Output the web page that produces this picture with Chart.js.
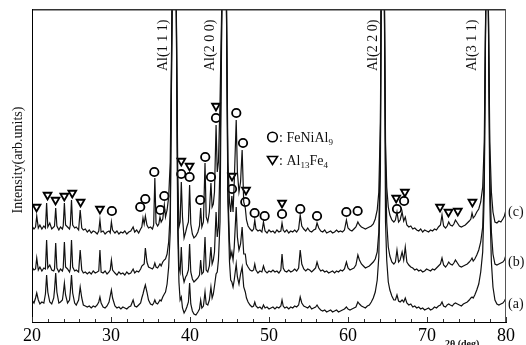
<!DOCTYPE html>
<html>
<head>
<meta charset="utf-8">
<script src="https://cdn.jsdelivr.net/npm/chart.js@4.4.1/dist/chart.umd.min.js"></script>
<style>
  html, body { margin: 0; padding: 0; background: #fff; }
  #xrd { display: block; }
</style>
</head>
<body>
<canvas id="xrd" width="526" height="345"></canvas>
<script>
// 2theta grid shared by the three patterns (deg)
const twoTheta = [
    20.0, 20.25, 20.45, 20.6, 20.8, 21.0, 21.25, 21.5, 21.7, 21.85,
    22.0, 22.25, 22.5, 22.75, 22.85, 23.0, 23.15, 23.4, 23.6, 23.85,
    23.95, 24.1, 24.25, 24.5, 24.75, 24.85, 25.0, 25.15, 25.4, 25.6,
    25.9, 26.1, 26.3, 26.5, 26.75, 27.0, 27.25, 27.5, 27.75, 28.0,
    28.25, 28.45, 28.6, 28.75, 29.0, 29.25, 29.5, 29.75, 29.9, 30.05,
    30.2, 30.5, 30.75, 31.0, 31.25, 31.5, 31.75, 32.0, 32.25, 32.5,
    32.8, 33.0, 33.25, 33.5, 33.75, 33.9, 34.05, 34.2, 34.35, 34.55,
    34.75, 35.0, 35.25, 35.4, 35.55, 35.7, 35.9, 36.05, 36.2, 36.35,
    36.55, 36.75, 36.9, 37.1, 37.3, 37.5, 37.75, 38.0, 38.25, 38.45,
    38.6, 38.75, 38.9, 39.05, 39.25, 39.45, 39.6, 39.8, 39.95, 40.1,
    40.3, 40.5, 40.75, 41.0, 41.2, 41.35, 41.5, 41.7, 41.9, 42.05,
    42.25, 42.45, 42.65, 42.8, 42.95, 43.1, 43.3, 43.45, 43.6, 43.8,
    44.05, 44.35, 44.6, 44.8, 45.0, 45.15, 45.3, 45.45, 45.6, 45.85,
    46.0, 46.2, 46.4, 46.6, 46.8, 47.0, 47.15, 47.35, 47.6, 47.85,
    48.05, 48.2, 48.35, 48.6, 48.85, 49.1, 49.3, 49.5, 49.75, 50.0,
    50.25, 50.5, 50.75, 51.0, 51.25, 51.5, 51.65, 51.8, 52.0, 52.25,
    52.5, 52.75, 53.0, 53.25, 53.5, 53.75, 53.95, 54.15, 54.4, 54.65,
    54.9, 55.15, 55.4, 55.65, 55.9, 56.08, 56.3, 56.55, 56.8, 57.05,
    57.3, 57.55, 57.8, 58.05, 58.3, 58.55, 58.8, 59.05, 59.3, 59.55,
    59.8, 60.0, 60.25, 60.5, 60.75, 61.0, 61.25, 61.45, 61.7, 61.95,
    62.2, 62.45, 62.7, 62.95, 63.2, 63.45, 63.7, 63.9, 64.1, 64.2,
    64.4, 64.6, 64.75, 64.9, 65.1, 65.3, 65.55, 65.8, 66.0, 66.2,
    66.4, 66.6, 66.85, 67.05, 67.25, 67.45, 67.7, 67.95, 68.2, 68.45,
    68.7, 68.95, 69.2, 69.45, 69.7, 69.95, 70.2, 70.45, 70.7, 70.95,
    71.2, 71.45, 71.7, 71.9, 72.1, 72.35, 72.55, 72.75, 72.95, 73.2,
    73.4, 73.6, 73.85, 74.1, 74.35, 74.6, 74.85, 75.1, 75.35, 75.55,
    75.7, 75.85, 76.05, 76.3, 76.55, 76.8, 77.05, 77.25, 77.45, 77.6,
    77.75, 77.95, 78.15, 78.35, 78.6, 78.85, 79.1, 79.35, 79.6, 79.8, 80.0
];

// pattern (c), offset on top
const intensityC = [
    96, 93, 95, 106, 94, 97, 93, 96, 94, 119,
    95, 99, 93, 95, 96, 114, 96, 92, 95, 93,
    96, 119, 97, 95, 93, 97, 122, 97, 94, 95,
    92, 112, 94, 92, 93, 90, 92, 89, 91, 90,
    88, 91, 102, 90, 91, 88, 90, 91, 89, 100,
    92, 89, 91, 88, 90, 89, 91, 88, 90, 91,
    95, 90, 92, 89, 93, 95, 104, 98, 106, 97,
    94, 95, 93, 97, 144, 99, 96, 98, 105, 100,
    103, 117, 105, 112, 125, 160, 330, 700, 330, 150,
    95, 100, 140, 105, 84, 90, 95, 100, 137, 98,
    88, 84, 86, 90, 96, 114, 95, 100, 159, 105,
    100, 110, 139, 115, 118, 130, 197, 150, 160, 220,
    330, 700, 330, 160, 120, 110, 126, 110, 140, 202,
    150, 130, 140, 172, 120, 114, 102, 96, 93, 91,
    93, 102, 93, 91, 92, 90, 100, 91, 89, 92,
    90, 91, 89, 92, 90, 91, 99, 92, 90, 92,
    89, 91, 90, 92, 90, 93, 107, 96, 93, 91,
    94, 91, 90, 92, 93, 99, 94, 91, 90, 92,
    89, 90, 91, 89, 90, 92, 90, 91, 90, 92,
    102, 94, 92, 91, 93, 95, 100, 97, 95, 94,
    93, 94, 95, 96, 98, 103, 112, 130, 200, 330,
    700, 330, 180, 135, 115, 107, 102, 100, 102, 110,
    100, 102, 110, 101, 105, 97, 95, 96, 93, 94,
    92, 91, 93, 90, 92, 91, 90, 92, 91, 93,
    92, 95, 97, 107, 96, 94, 96, 100, 97, 96,
    98, 102, 99, 96, 95, 96, 97, 99, 101, 103,
    109, 104, 106, 110, 113, 120, 135, 180, 330, 700,
    330, 180, 130, 110, 100, 99, 101, 100, 103, 106, 112
];

// pattern (b)
const intensityB = [
    55, 52, 53, 64, 52, 55, 51, 54, 53, 82,
    54, 57, 52, 51, 53, 79, 54, 50, 53, 51,
    54, 80, 55, 53, 50, 53, 82, 55, 51, 52,
    50, 72, 52, 49, 50, 48, 50, 48, 51, 49,
    50, 51, 72, 50, 49, 51, 48, 50, 52, 62,
    52, 49, 47, 50, 48, 49, 47, 50, 48, 49,
    53, 49, 51, 50, 53, 56, 57, 58, 74, 60,
    55, 54, 53, 55, 59, 55, 54, 56, 58, 56,
    60, 62, 63, 68, 80, 110, 330, 700, 330, 110,
    55, 50, 75, 48, 40, 45, 47, 52, 78, 50,
    43, 40, 42, 44, 47, 62, 48, 50, 85, 52,
    50, 56, 75, 58, 62, 70, 110, 85, 95, 160,
    330, 700, 330, 130, 80, 65, 70, 62, 75, 115,
    85, 72, 78, 95, 68, 68, 58, 55, 52, 51,
    52, 58, 52, 49, 51, 50, 56, 51, 49, 51,
    50, 52, 50, 51, 49, 52, 68, 54, 51, 50,
    52, 50, 51, 53, 51, 54, 72, 58, 53, 51,
    53, 52, 50, 52, 54, 60, 54, 51, 52, 50,
    51, 49, 50, 51, 49, 51, 50, 52, 51, 53,
    60, 54, 52, 53, 54, 57, 67, 62, 58, 56,
    54, 55, 56, 58, 60, 63, 70, 90, 180, 330,
    700, 330, 160, 100, 75, 66, 60, 58, 60, 72,
    60, 62, 70, 62, 75, 60, 57, 55, 54, 52,
    53, 51, 52, 50, 51, 53, 52, 51, 53, 52,
    54, 56, 58, 64, 57, 55, 57, 60, 58, 57,
    59, 62, 59, 56, 55, 56, 57, 58, 60, 62,
    64, 61, 63, 67, 72, 80, 95, 150, 330, 700,
    330, 150, 90, 68, 58, 57, 58, 59, 60, 62, 67
];

// pattern (a), bottom
const intensityA = [
    22, 19, 24, 29, 22, 18, 20, 19, 28, 47,
    30, 20, 18, 24, 32, 49, 30, 19, 20, 22,
    28, 39, 27, 19, 22, 30, 47, 29, 19, 17,
    22, 35, 24, 17, 16, 15, 16, 14, 16, 15,
    17, 20, 25, 19, 15, 14, 16, 20, 26, 32,
    24, 16, 14, 15, 13, 15, 14, 13, 15, 16,
    22, 16, 15, 17, 19, 24, 28, 33, 37, 30,
    22, 18, 17, 19, 22, 19, 18, 20, 22, 21,
    25, 28, 30, 38, 55, 90, 330, 700, 330, 90,
    40, 22, 25, 14, 9, 12, 15, 20, 39, 18,
    11, 8, 7, 10, 13, 22, 14, 16, 30, 18,
    17, 22, 35, 24, 28, 36, 48, 50, 62, 100,
    330, 700, 330, 120, 60, 42, 40, 35, 42, 58,
    45, 38, 48, 55, 35, 30, 24, 20, 17, 15,
    16, 20, 16, 14, 15, 13, 17, 14, 15, 13,
    14, 15, 13, 15, 14, 16, 22, 16, 14, 15,
    13, 15, 14, 16, 15, 17, 25, 19, 16, 15,
    14, 16, 13, 14, 15, 17, 14, 12, 11, 12,
    10, 11, 12, 10, 11, 12, 10, 11, 12, 13,
    15, 13, 12, 13, 14, 15, 20, 18, 16, 15,
    14, 16, 17, 20, 24, 30, 42, 65, 150, 330,
    700, 330, 100, 62, 40, 32, 26, 22, 22, 27,
    21, 20, 22, 20, 24, 19, 17, 18, 15, 16,
    14, 15, 13, 14, 12, 13, 14, 12, 13, 15,
    14, 16, 17, 20, 16, 15, 17, 18, 17, 16,
    18, 19, 18, 17, 16, 18, 19, 20, 22, 24,
    25, 24, 27, 32, 38, 50, 70, 130, 330, 700,
    330, 120, 60, 35, 22, 18, 17, 18, 19, 21, 24
];

// phase marks: O = FeNiAl9, triangle = Al13Fe4
const feNiAlX = [30.11, 33.7, 34.34, 35.48, 36.24, 36.75, 38.89, 39.95, 41.3, 41.93, 42.66, 43.29, 45.32,
    45.86, 46.71, 47.0, 48.18, 49.45, 51.65, 53.96, 56.08, 59.79, 61.22, 66.2, 67.1];
const feNiAlY = [111, 115, 123, 150, 112, 126, 148, 145, 122, 165, 145, 204, 133,
    209, 179, 120, 109, 106, 108, 113, 106, 110, 111, 113, 121];
const alFeX = [20.58, 21.97, 22.98, 24.09, 25.1, 26.15, 28.6, 38.9, 39.95, 43.29, 45.32, 47.09, 51.65,
    66.1, 67.2, 71.65, 72.72, 73.9, 75.75];
const alFeY = [115, 127, 122, 126, 129, 120, 113, 161, 156, 216, 146, 132, 119,
    124, 130, 115, 110, 111, 120];

const alLabels = ["Al(1 1 1)", "Al(2 0 0)", "Al(2 2 0)", "Al(3 1 1)"];
const alLabelAt = [36.6, 42.6, 63.25, 75.8];
const xTicks = [20, 30, 40, 50, 60, 70, 80];

if (intensityA.length !== twoTheta.length || intensityB.length !== twoTheta.length || intensityC.length !== twoTheta.length) {
    throw new Error("length mismatch " + twoTheta.length + " " + intensityA.length + " " + intensityB.length + " " + intensityC.length);
}

const SERIF = "'Liberation Serif', 'Times New Roman', serif";

function toPoints(xs, ys) {
    return xs.map((x, i) => ({ x: x, y: ys[i] }));
}

function pattern(values) {
    return {
        data: toPoints(twoTheta, values),
        borderColor: "#111",
        borderWidth: 1.2,
        pointRadius: 0,
        tension: 0,
        fill: false
    };
}

function drawRich(ctx, parts, x, y) {
    parts.forEach(([text, sub]) => {
        ctx.font = (sub ? "9px " : "14px ") + SERIF;
        ctx.fillText(text, x, y + (sub ? 3 : 0));
        x += ctx.measureText(text).width;
    });
}

const decorations = {
    id: "decorations",
    afterDraw(chart) {
        const ctx = chart.ctx;
        const area = chart.chartArea;
        const xs = chart.scales.x;
        ctx.save();

        // frame: grey top and right, black left
        ctx.strokeStyle = "#333";
        ctx.lineWidth = 1.5;
        ctx.beginPath();
        ctx.moveTo(area.left, area.top + 0.75);
        ctx.lineTo(area.right, area.top + 0.75);
        ctx.stroke();
        ctx.lineWidth = 1;
        ctx.strokeStyle = "#555";
        ctx.beginPath();
        ctx.moveTo(area.right - 0.5, area.top);
        ctx.lineTo(area.right - 0.5, area.bottom);
        ctx.stroke();
        ctx.strokeStyle = "#000";
        ctx.beginPath();
        ctx.moveTo(area.left + 0.5, area.top);
        ctx.lineTo(area.left + 0.5, area.bottom);
        ctx.stroke();

        // inner ticks every 2 deg
        ctx.strokeStyle = "#333";
        ctx.beginPath();
        for (let v = 20; v <= 80; v += 2) {
            const px = Math.round(xs.getPixelForValue(v)) + 0.5;
            ctx.moveTo(px, area.bottom);
            ctx.lineTo(px, area.bottom - (v % 10 === 0 ? 5 : 3));
        }
        ctx.stroke();

        ctx.fillStyle = "#111";

        // Al reflections
        ctx.font = "14px " + SERIF;
        ctx.textAlign = "left";
        ctx.textBaseline = "middle";
        alLabels.forEach((lab, i) => {
            ctx.save();
            ctx.translate(xs.getPixelForValue(alLabelAt[i]), 71);
            ctx.rotate(-Math.PI / 2);
            ctx.fillText(lab, 0, 0);
            ctx.restore();
        });

        // y title
        ctx.save();
        ctx.translate(18, 160);
        ctx.rotate(-Math.PI / 2);
        ctx.textAlign = "center";
        ctx.fillText("Intensity(arb.units)", 0, 0);
        ctx.restore();

        // pattern names
        ctx.textAlign = "left";
        ctx.fillText("(c)", 508, 212);
        ctx.fillText("(b)", 508, 262);
        ctx.fillText("(a)", 508, 304);

        // legend
        ctx.strokeStyle = "#000";
        ctx.lineWidth = 1.6;
        ctx.beginPath();
        ctx.arc(272.5, 137, 4.8, 0, Math.PI * 2);
        ctx.stroke();
        ctx.beginPath();
        ctx.moveTo(267.5, 156.5);
        ctx.lineTo(277.5, 156.5);
        ctx.lineTo(272.5, 164.5);
        ctx.closePath();
        ctx.stroke();
        ctx.textBaseline = "alphabetic";
        drawRich(ctx, [[":", false], [" FeNiAl", false], ["9", true]], 279, 142);
        drawRich(ctx, [[":", false], [" Al", false], ["13", true], ["Fe", false], ["4", true]], 279, 165);

        // x unit
        ctx.font = "bold 10px " + SERIF;
        ctx.textBaseline = "top";
        ctx.fillText("2\u03b8 (deg)", 445, 339);

        ctx.restore();
    }
};

new Chart(document.getElementById("xrd"), {
    type: "line",
    data: {
        datasets: [
            pattern(intensityC),
            pattern(intensityB),
            pattern(intensityA),
            {
                data: toPoints(feNiAlX, feNiAlY),
                showLine: false,
                pointStyle: "circle",
                pointRadius: 4.2,
                pointBorderWidth: 1.8,
                pointBorderColor: "#000",
                pointBackgroundColor: "rgba(255,255,255,0)"
            },
            {
                data: toPoints(alFeX, alFeY),
                showLine: false,
                pointStyle: "triangle",
                pointRotation: 180,
                pointRadius: 4.5,
                pointBorderWidth: 1.8,
                pointBorderColor: "#000",
                pointBackgroundColor: "rgba(255,255,255,0)"
            }
        ]
    },
    options: {
        responsive: false,
        animation: false,
        devicePixelRatio: 1,
        events: [],
        layout: { padding: { left: 32, right: 20, top: 9, bottom: 0 } },
        plugins: { legend: { display: false }, tooltip: { enabled: false } },
        scales: {
            x: {
                type: "linear",
                min: 20,
                max: 80,
                afterBuildTicks: scale => { scale.ticks = xTicks.map(v => ({ value: v })); },
                afterFit: scale => { scale.height = 23; },
                ticks: {
                    font: { family: SERIF, size: 18 },
                    color: "#000",
                    padding: 3,
                    maxRotation: 0,
                    autoSkip: false
                },
                grid: { display: false, drawTicks: false },
                border: { display: true, color: "#000", width: 1 }
            },
            y: {
                display: false,
                min: 0,
                max: 313
            }
        }
    },
    plugins: [decorations]
});
</script>
</body>
</html>
